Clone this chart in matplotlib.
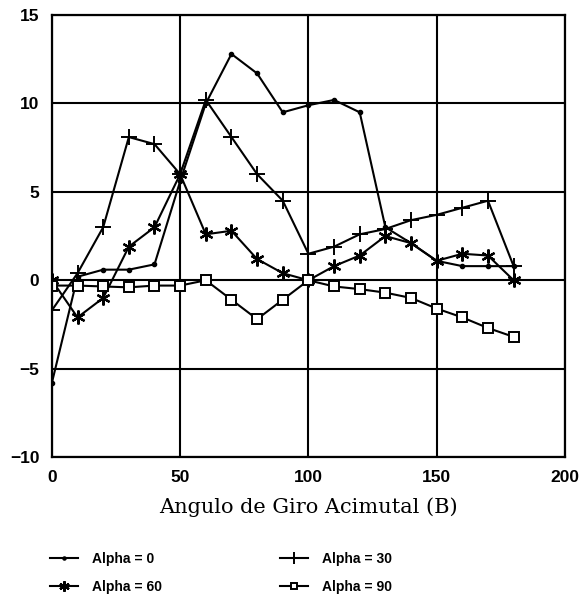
import matplotlib
matplotlib.use("Agg")
import matplotlib.pyplot as plt

# azimuthal rotation angle (degrees)
angulo = [0, 10, 20, 30, 40, 50, 60, 70, 80, 90, 100, 110, 120, 130, 140, 150, 160, 170, 180]

alpha_0 = [-5.8, 0.2, 0.6, 0.6, 0.9, 5.6, 10.0, 12.8, 11.7, 9.5, 9.9, 10.2, 9.5, 3.0, 2.1, 1.1, 0.8, 0.8, 0.8]
alpha_30 = [-1.7, 0.4, 3.0, 8.1, 7.7, 6.0, 10.2, 8.1, 6.0, 4.5, 1.5, 1.9, 2.6, 2.9, 3.4, 3.7, 4.1, 4.5, 0.8]
alpha_60 = [0.0, -2.1, -1.0, 1.9, 3.0, 6.0, 2.6, 2.8, 1.2, 0.4, 0.0, 0.8, 1.4, 2.5, 2.1, 1.1, 1.5, 1.4, 0.0]
alpha_90 = [-0.3, -0.3, -0.35, -0.4, -0.3, -0.3, 0.0, -1.1, -2.2, -1.1, 0.0, -0.35, -0.5, -0.7, -1.0, -1.6, -2.1, -2.7, -3.2]

x_ticks = [0, 50, 100, 150, 200]
y_ticks = [-10, -5, 0, 5, 10, 15]

fig = plt.figure(figsize=(5.83, 6.03), dpi=100)
ax = fig.add_axes([0.089, 0.242, 0.880, 0.733])

lw = 1.5
l0, = ax.plot(angulo, alpha_0, "k-", lw=lw, marker="o", ms=3, label="Alpha = 0")
l30, = ax.plot(angulo, alpha_30, "k-", lw=lw, marker="+", ms=11, mew=1.4, label="Alpha = 30")
l60, = ax.plot(angulo, alpha_60, "k-", lw=lw, marker=(6, 2, 0), ms=10, mew=1.6, label="Alpha = 60")
l90, = ax.plot(angulo, alpha_90, "k-", lw=lw, marker="s", ms=6.5, mfc="white", mew=1.4, label="Alpha = 90")

ax.set_xlim(0, 200)
ax.set_ylim(-10, 15)
ax.set_xticks(x_ticks)
ax.set_yticks(y_ticks)
ax.grid(True, color="black", lw=1.5)
ax.set_axisbelow(True)
for s in ax.spines.values():
    s.set_linewidth(1.6)
ax.tick_params(length=0, pad=9, labelsize=12.5)
ax.set_yticklabels(["\u221210", "\u22125", "0", "5", "10", "15"])
for t in ax.get_xticklabels() + ax.get_yticklabels():
    t.set_fontweight("bold")
    t.set_family("Liberation Sans")

ax.set_xlabel("Angulo de Giro Acimutal (B)", family="DejaVu Serif", fontsize=15, labelpad=9)

fig.legend([l0, l60, l30, l90], ["Alpha = 0", "Alpha = 60", "Alpha = 30", "Alpha = 90"],
           ncol=2, loc="lower left", bbox_to_anchor=(0.065, -0.005), frameon=False,
           handlelength=2.0, handletextpad=1.0, columnspacing=8.5, labelspacing=0.95,
           markerscale=0.75,
           prop={"weight": "bold", "size": 10, "family": "Liberation Sans"})

fig.savefig("out.png", dpi=100)
